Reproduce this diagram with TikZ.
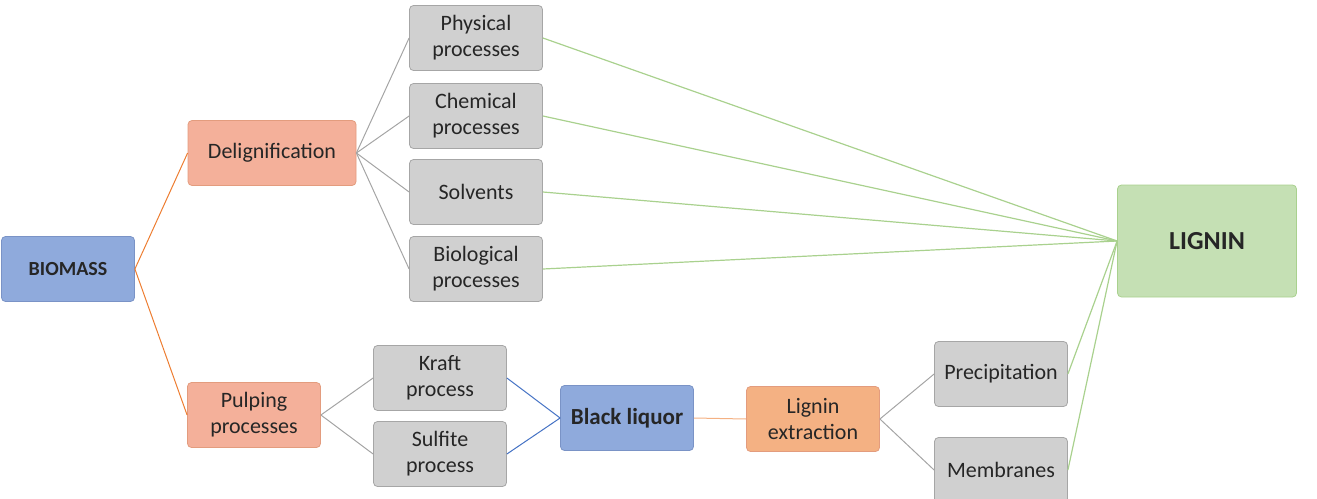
\documentclass[tikz,border=0pt]{standalone}
\usepackage{fontspec}
\setmainfont{Carlito}
\usepackage{tikz}
\usetikzlibrary{calc}

\definecolor{boxblue}{HTML}{8FAADC}
\definecolor{boxblueline}{HTML}{7A93C6}
\definecolor{boxorange}{HTML}{F4B09A}
\definecolor{boxorangeb}{HTML}{F4B183}
\definecolor{boxorangeline}{HTML}{E39C7E}
\definecolor{boxgreen}{HTML}{C5E0B4}
\definecolor{boxgreenline}{HTML}{A9D18E}
\definecolor{boxgray}{HTML}{D0D0D0}
\definecolor{boxgrayline}{HTML}{A6A6A6}
\definecolor{txt}{HTML}{262626}
\definecolor{linkorange}{HTML}{ED7D31}
\definecolor{linkgray}{HTML}{A5A5A5}
\definecolor{linkgreen}{HTML}{A9D18E}
\definecolor{linkblue}{HTML}{4472C4}

\begin{document}
\begin{tikzpicture}[x=1pt,y=-1pt,
  box/.style={draw,rounded corners=4pt,line width=0.8pt,align=center,
    minimum width=133pt,minimum height=65pt,inner sep=2pt,text=txt,
    font=\fontsize{22}{26}\selectfont},
  graybox/.style={box,fill=boxgray,draw=boxgrayline},
  orangebox/.style={box,fill=boxorange,draw=boxorangeline},
  bluebox/.style={box,fill=boxblue,draw=boxblueline},
  greenbox/.style={box,fill=boxgreen,draw=boxgreenline},
  orangelink/.style={draw=linkorange,line width=1pt},
  graylink/.style={draw=linkgray,line width=1pt},
  greenlink/.style={draw=linkgreen,line width=1.2pt},
  bluelink/.style={draw=linkblue,line width=1pt}]
  \useasboundingbox (0,0) rectangle (1317,498);

  % left part
  \node[bluebox,font=\fontsize{20}{24}\selectfont\bfseries] (biomass) at (68,269) {BIOMASS};
  \node[orangebox,minimum width=168pt] (delig) at (272,153) {Delignification};
  \node[orangebox] (pulping) at (254,415) {Pulping\\processes};

  % delignification routes
  \node[graybox] (physical) at (476,38) {Physical\\processes};
  \node[graybox] (chemical) at (476,116) {Chemical\\processes};
  \node[graybox] (solvents) at (476,192) {Solvents};
  \node[graybox] (biological) at (476,269) {Biological\\processes};

  % pulping routes
  \node[graybox] (kraft) at (440,378) {Kraft\\process};
  \node[graybox] (sulfite) at (440,454) {Sulfite\\process};
  \node[bluebox,font=\fontsize{23}{27}\selectfont\bfseries] (liquor) at (627,418) {Black liquor};
  \node[orangebox,fill=boxorangeb] (extract) at (813,419) {Lignin\\extraction};
  \node[graybox] (precip) at (1001,374) {Precipitation};
  \node[graybox] (membr) at (1001,470) {Membranes};

  % target
  \node[greenbox,minimum width=179pt,minimum height=112pt,
    font=\fontsize{26}{30}\selectfont\bfseries] (lignin) at (1207,241) {LIGNIN};

  % connectors
  \draw[orangelink] (biomass.east) -- (delig.west);
  \draw[orangelink] (biomass.east) -- (pulping.west);
  \foreach \n in {physical,chemical,solvents,biological}
    \draw[graylink] (delig.east) -- (\n.west);
  \foreach \n in {physical,chemical,solvents,biological,precip,membr}
    \draw[greenlink] (\n.east) -- (lignin.west);
  \draw[graylink] (pulping.east) -- (kraft.west);
  \draw[graylink] (pulping.east) -- (sulfite.west);
  \draw[bluelink] (kraft.east) -- (liquor.west);
  \draw[bluelink] (sulfite.east) -- (liquor.west);
  \draw[orangelink,draw=boxorangeb] (liquor.east) -- (extract.west);
  \draw[graylink] (extract.east) -- (precip.west);
  \draw[graylink] (extract.east) -- (membr.west);
\end{tikzpicture}
\end{document}
